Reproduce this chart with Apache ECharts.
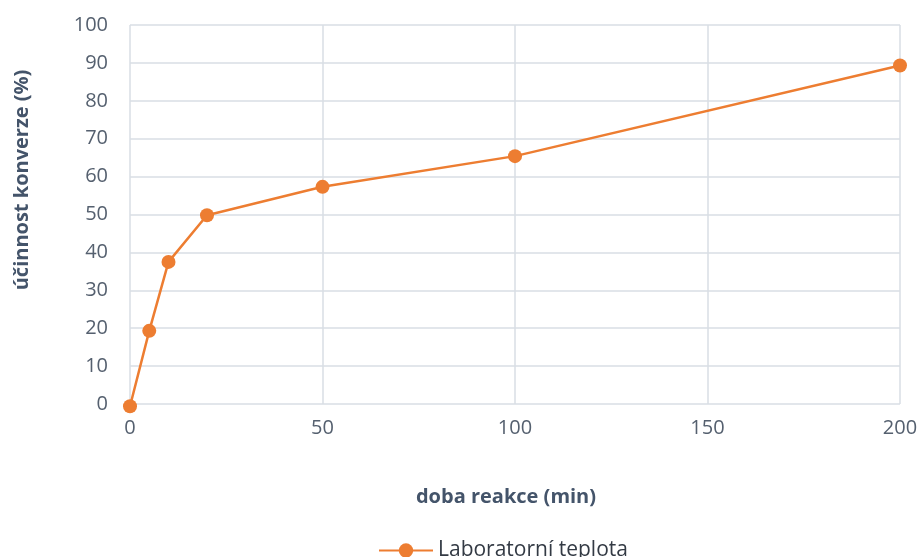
<!DOCTYPE html>
<html>
<head>
<meta charset="utf-8">
<script src="https://cdn.jsdelivr.net/npm/echarts@6/dist/echarts.min.js"></script>
<style>
  html, body { margin: 0; padding: 0; background: #ffffff; }
  #chart { width: 923px; height: 557px; }
</style>
</head>
<body>
<div id="chart"></div>
<script>
// Reaction time (min) and conversion efficiency (%)
const reactionTimes = [0, 5, 10, 20, 50, 100, 200];
const conversion = [-0.6, 19.3, 37.5, 49.8, 57.3, 65.4, 89.3];
const seriesName = 'Laboratorní teplota';
const xTitle = 'doba reakce (min)';
const yTitle = 'účinnost konverze (%)';

const FONT = '"Open Sans", "Liberation Sans", sans-serif';
const gridColor = '#d9dee5';
const labelColor = '#55606f';
const titleColor = '#44546a';

const chart = echarts.init(document.getElementById('chart'));
chart.setOption({
  animation: false,
  grid: { left: 130, right: 23, top: 25, bottom: 153 },
  xAxis: {
    type: 'value', min: 0, max: 200, interval: 50,
    axisLine: { show: false },
    axisTick: { show: false },
    splitLine: { show: true, lineStyle: { color: gridColor, width: 1.5 } },
    axisLabel: { color: labelColor, fontSize: 20, fontFamily: FONT, margin: 14 }
  },
  yAxis: {
    type: 'value', min: 0, max: 100, interval: 10,
    axisLine: { show: false },
    axisTick: { show: false },
    splitLine: { show: true, lineStyle: { color: gridColor, width: 1.5 } },
    axisLabel: { color: labelColor, fontSize: 20, fontFamily: FONT, margin: 22 }
  },
  legend: {
    top: 535, left: 373,
    itemWidth: 54, itemHeight: 18, itemGap: 6,
    textStyle: { color: '#333a44', fontSize: 21, fontFamily: FONT },
    data: [seriesName]
  },
  graphic: [
    {
      type: 'text',
      rotation: Math.PI / 2,
      x: 22, y: 180,
      style: {
        text: yTitle, fill: titleColor, font: 'bold 20px ' + FONT,
        align: 'center', verticalAlign: 'middle'
      }
    },
    {
      type: 'text', x: 506, y: 497,
      style: {
        text: xTitle, fill: titleColor, font: 'bold 20px ' + FONT,
        align: 'center', verticalAlign: 'middle'
      }
    }
  ],
  series: [{
    name: seriesName,
    type: 'line',
    data: reactionTimes.map((t, i) => [t, conversion[i]]),
    symbol: 'circle', symbolSize: 14,
    clip: false,
    lineStyle: { color: '#ed7d31', width: 2.5 },
    itemStyle: { color: '#ed7d31' }
  }]
});
</script>
</body>
</html>
